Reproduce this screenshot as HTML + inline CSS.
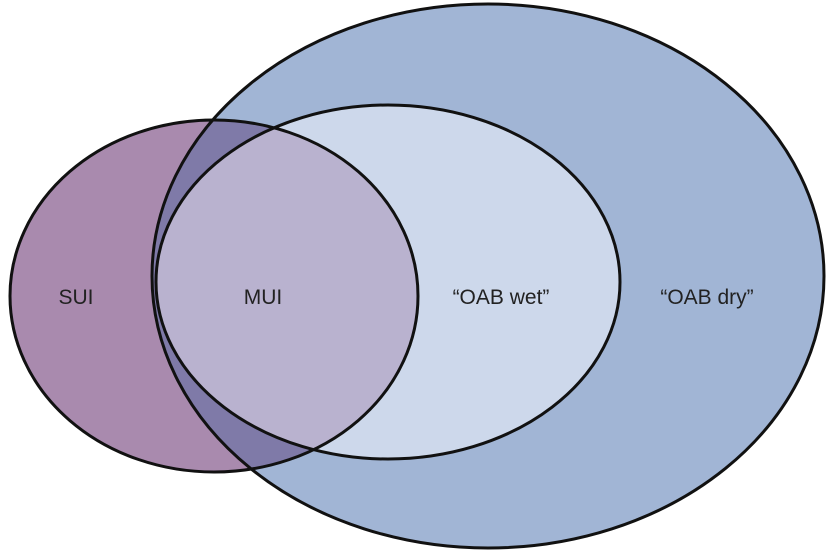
<!DOCTYPE html>
<html><head><style>html,body{margin:0;padding:0;background:#fff;width:827px;height:553px;overflow:hidden}</style></head>
<body>
<svg width="827" height="553" viewBox="0 0 827 553" xmlns="http://www.w3.org/2000/svg">
<defs>
<clipPath id="sui"><ellipse cx="214" cy="296" rx="204" ry="176"/></clipPath>
</defs>
<ellipse cx="214" cy="296" rx="204" ry="176" fill="#a98aae"/>
<ellipse cx="488" cy="276" rx="336" ry="272" fill="#a1b5d5"/>
<ellipse cx="388" cy="282" rx="232" ry="177" fill="#cdd8eb"/>
<g clip-path="url(#sui)">
<ellipse cx="488" cy="276" rx="336" ry="272" fill="#7f7aa8"/>
<ellipse cx="388" cy="282" rx="232" ry="177" fill="#b9b2cf"/>
</g>
<g fill="none" stroke="#111" stroke-width="3">
<ellipse cx="488" cy="276" rx="336" ry="272"/>
<ellipse cx="388" cy="282" rx="232" ry="177"/>
<ellipse cx="214" cy="296" rx="204" ry="176"/>
</g>
<g font-family="Liberation Sans, sans-serif" font-size="21" fill="#222" text-anchor="middle">
<text x="76" y="304">SUI</text>
<text x="263" y="304">MUI</text>
<text x="501" y="304">“OAB wet”</text>
<text x="707" y="304">“OAB dry”</text>
</g>
</svg>
</body></html>
